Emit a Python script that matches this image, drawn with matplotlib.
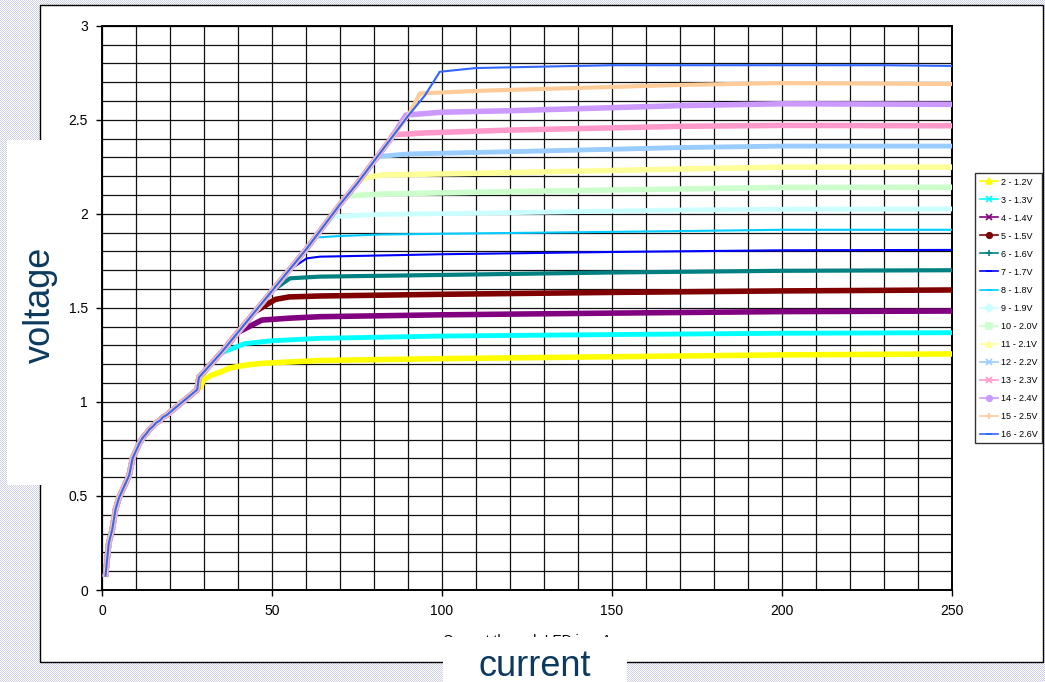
import numpy as np
import matplotlib
matplotlib.use("Agg")
import matplotlib.pyplot as plt
from matplotlib.lines import Line2D
from matplotlib.patches import Rectangle
from matplotlib.transforms import Bbox

plt.rcParams['font.family'] = ['Liberation Sans', 'DejaVu Sans']

# shared start of every curve (current mA, voltage V)
start_x = [1, 2, 3, 4, 5, 6, 7, 8, 9, 10, 11, 12, 13, 14, 15, 16, 17, 18, 19, 20,
           21, 22, 23, 24, 25, 26, 27, 28]
start_v = [0.07, 0.25, 0.32, 0.43, 0.49, 0.53, 0.57, 0.61, 0.70, 0.74, 0.78, 0.81,
           0.83, 0.855, 0.87, 0.89, 0.90, 0.92, 0.93, 0.945, 0.96, 0.975, 0.99,
           1.005, 1.02, 1.035, 1.05, 1.065]

# common rising part for the higher settings
rise_x = [28.5, 35, 40, 45, 50, 55, 60, 65, 70, 75, 80, 85, 90, 95, 99]
rise_v = [1.13, 1.26, 1.37, 1.48, 1.59, 1.70, 1.81, 1.93, 2.05, 2.16, 2.28, 2.40,
          2.52, 2.63, 2.745]

labels = ["2 - 1.2V", "3 - 1.3V", "4 - 1.4V", "5 - 1.5V", "6 - 1.6V", "7 - 1.7V",
          "8 - 1.8V", "9 - 1.9V", "10 - 2.0V", "11 - 2.1V", "12 - 2.2V",
          "13 - 2.3V", "14 - 2.4V", "15 - 2.5V", "16 - 2.6V"]

# plateau part of each curve
plat_x = [
    [29, 30, 32, 35, 37.5, 42, 47, 64, 100, 150, 200, 250],
    [42, 50, 64, 100, 150, 200, 250],
    [47, 55, 64, 100, 150, 200, 250],
    [51, 55, 64, 100, 150, 200, 250],
    [55.3, 64, 100, 150, 200, 250],
    [60.2, 64, 100, 150, 200, 250],
    [63, 70, 82, 120, 170, 200, 250],
    [68, 82, 120, 170, 200, 250],
    [72, 82, 120, 170, 200, 250],
    [77, 82, 120, 170, 200, 250],
    [81.6, 90, 120, 170, 200, 250],
    [85.5, 95, 120, 170, 200, 250],
    [89.4, 100, 120, 170, 200, 250],
    [93.5, 111, 170, 200, 250],
    [99.3, 110, 150, 200, 230, 250],
]
plat_v = [
    [1.08, 1.12, 1.14, 1.16, 1.18, 1.195, 1.205, 1.22, 1.23, 1.24, 1.25, 1.255],
    [1.31, 1.325, 1.338, 1.35, 1.358, 1.365, 1.368],
    [1.435, 1.445, 1.453, 1.463, 1.472, 1.48, 1.483],
    [1.545, 1.558, 1.563, 1.572, 1.582, 1.59, 1.595],
    [1.657, 1.666, 1.675, 1.688, 1.697, 1.70],
    [1.763, 1.772, 1.785, 1.797, 1.806, 1.808],
    [1.874, 1.882, 1.89, 1.898, 1.908, 1.915, 1.915],
    [1.985, 1.997, 2.006, 2.02, 2.024, 2.026],
    [2.095, 2.105, 2.118, 2.132, 2.14, 2.141],
    [2.19, 2.206, 2.219, 2.238, 2.248, 2.248],
    [2.305, 2.318, 2.33, 2.352, 2.36, 2.36],
    [2.42, 2.43, 2.445, 2.465, 2.47, 2.468],
    [2.525, 2.54, 2.548, 2.575, 2.585, 2.582],
    [2.64, 2.654, 2.685, 2.695, 2.69],
    [2.755, 2.775, 2.79, 2.79, 2.79, 2.786],
]

colors = ["#FFFF00", "#00FFFF", "#800080", "#800000", "#008080", "#0000FF",
          "#00CCFF", "#CCFFFF", "#CCFFCC", "#FFFF99", "#99CCFF", "#FF99CC",
          "#CC99FF", "#FFCC99", "#3366FF"]
markers = ["^", "x", "x", "o", "+", "_", "_", "D", "s", "^", "x", "x", "o", "+", "_"]
widths = [4, 3.5, 4, 4, 3, 1.5, 1.5, 3.5, 4, 4, 3.5, 4, 4, 3, 1.5]

W, H = 1045, 682
fig = plt.figure(figsize=(W / 100, H / 100), dpi=100)

# checkered screenshot background
yy, xx = np.mgrid[0:H, 0:W]
chk = ((xx + yy) % 2 == 0)
bg = np.ones((H, W, 3))
bg[chk] = [0.80, 0.80, 0.93]
fig.figimage(bg, xo=0, yo=0, origin='upper', zorder=-3)


def px_rect(x0, y0, x1, y1, **kw):
    r = Rectangle((x0 / W, 1 - y1 / H), (x1 - x0) / W, (y1 - y0) / H,
                  transform=fig.transFigure, **kw)
    fig.add_artist(r)


px_rect(40, 5, 1043, 662, facecolor="white", edgecolor="black", lw=1, zorder=-2)
px_rect(7, 140, 70, 485, facecolor="white", edgecolor="none", zorder=-1)
px_rect(443, 661, 627, 683, facecolor="white", edgecolor="none", zorder=-1)

ax = fig.add_axes([102 / W, 1 - 590 / H, 850 / W, (590 - 25.7) / H])
ax.set_facecolor("white")

for i in range(len(labels)):
    xs = list(start_x)
    vs = list(start_v)
    for x, v in zip(rise_x, rise_v):
        if x < plat_x[i][0] and v < plat_v[i][0]:
            xs.append(x)
            vs.append(v)
    xs += plat_x[i]
    vs += plat_v[i]
    ax.plot(xs, vs, color=colors[i], lw=widths[i], solid_capstyle='butt',
            solid_joinstyle='round', zorder=3 + i * 0.01)

ax.set_xlim(0, 250)
ax.set_ylim(0, 3)
ax.set_xticks(np.arange(0, 251, 50))
ax.set_yticks([0, 0.5, 1, 1.5, 2, 2.5, 3])
ax.set_yticklabels(["0", "0.5", "1", "1.5", "2", "2.5", "3"])
ax.set_xticks(np.arange(0, 251, 10), minor=True)
ax.set_yticks(np.arange(0, 3.01, 0.1), minor=True)
ax.tick_params(which='major', direction='out', length=4, width=1, labelsize=10,
               colors='black', pad=6)
ax.tick_params(which='minor', length=0)
ax.grid(which='both', color='#111111', lw=0.9)
ax.set_axisbelow(True)
for s in ax.spines.values():
    s.set_color('black')
    s.set_linewidth(1.4)

handles = [Line2D([0], [0], color=c, marker=m, ms=4, lw=1.2, mew=1.2)
           for c, m in zip(colors, markers)]
leg = fig.legend(handles, labels, loc='upper left',
                 bbox_to_anchor=(975 / W, 1 - 173 / H), fontsize=6.5,
                 frameon=True, fancybox=False, edgecolor='black',
                 handlelength=2.0, handletextpad=0.4, labelspacing=1.0,
                 borderpad=0.5, borderaxespad=0)
leg.get_frame().set_linewidth(1)

# big labels pasted over the chart
fig.text(535 / W, 1 - 666 / H, "current", fontsize=26, color="#0b3a5e",
         ha='center', va='center')
fig.text(40 / W, 1 - 305 / H, "voltage", fontsize=26, color="#0b3a5e",
         ha='center', va='center', rotation=90)

# remains of the original axis title, mostly hidden
t = fig.text(527 / W, 1 - 634 / H, "Current through LED in mA", fontsize=10,
             color="black", ha='center', va='top')
t.set_clip_box(Bbox([[0, H - 637], [W, H - 634]]))
t.set_clip_on(True)

fig.savefig("out.png", dpi=100)
